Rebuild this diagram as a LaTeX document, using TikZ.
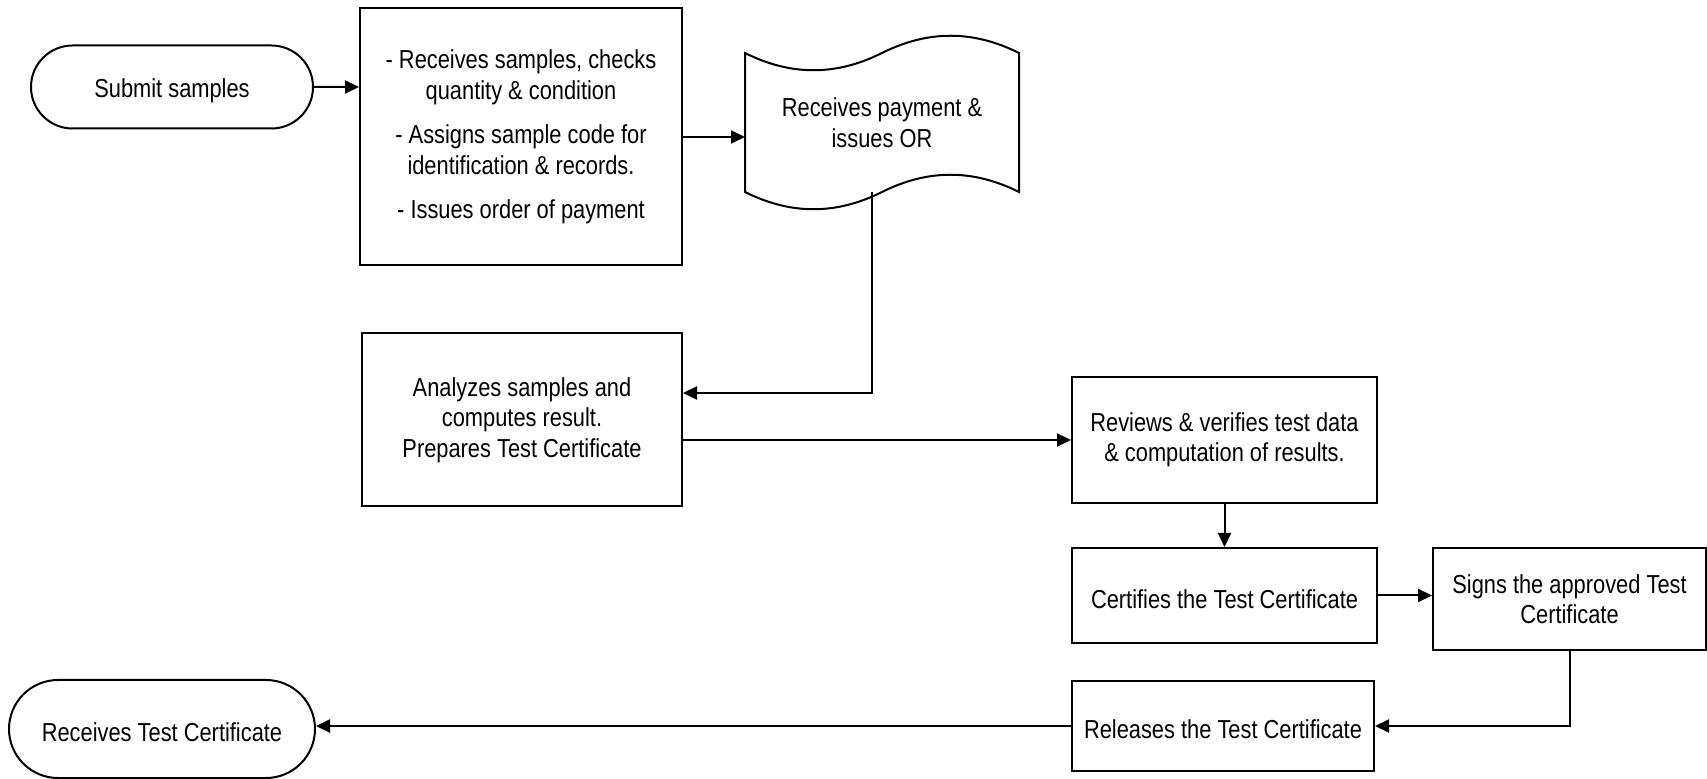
\documentclass[tikz,border=0pt]{standalone}
\usepackage{fontspec}
\setmainfont{Liberation Sans}[FakeStretch=0.84]
\usetikzlibrary{shapes.misc,arrows.meta}

\begin{document}
\begin{tikzpicture}[x=0.5pt,y=-0.5pt,
		font=\fontsize{13}{15.25}\selectfont,
		every node/.style={line width=1pt,align=center,inner sep=2pt,execute at begin node={\rule{0pt}{13pt}}},
		term/.style={draw,rounded rectangle},
		box/.style={draw,rectangle},
		flow/.style={-{Triangle[length=7pt,width=6.5pt]},line width=1pt}]
			\useasboundingbox (0,0) rectangle (1707,779);
			\node[term,minimum width=145pt,minimum height=41.5pt] (p1) at (172,87) {Submit samples};
			\node[box,minimum width=161pt,minimum height=128.5pt] (p2) at (521,137) {- Receives samples, checks\\ quantity \& condition\\[7pt] - Assigns sample code for\\ identification \& records.\\[7pt] - Issues order of payment};
			% payment tape, outline drawn round the node
			\node[outer sep=0pt,minimum width=137pt,minimum height=69.5pt] (p3) at (882,122.5) {Receives payment \&\\ issues OR};
			\draw[line width=1pt] (p3.north west) .. controls (791,76) and (836,76) .. (p3.north) .. controls (928,30) and (973,30) .. (p3.north east) -- (p3.south east) .. controls (973,169) and (928,169) .. (p3.south) .. controls (836,215) and (791,215) .. (p3.south west) -- cycle;
			\node[box,minimum width=160pt,minimum height=86.5pt] (p4) at (522,420) {Analyzes samples and\\ computes result.\\ Prepares Test Certificate};
			\node[box,minimum width=152.5pt,minimum height=63pt] (p5) at (1224.5,440) {Reviews \& verifies test data\\ \& computation of results.};
			\node[box,minimum width=152.5pt,minimum height=47.5pt] (p6) at (1224.5,595.5) {Certifies the Test Certificate};
			\node[box,minimum width=136.5pt,minimum height=51pt] (p7) at (1569.5,599) {Signs the approved Test\\ Certificate};
			\node[box,minimum width=151pt,minimum height=45pt] (p8) at (1223,726) {Releases the Test Certificate};
			\node[term,minimum width=157pt,minimum height=49pt] (p9) at (162,729) {Receives Test Certificate};
			\draw[flow] (p1) -- (p1 -| p2.west);
			\draw[flow] (p2.east) -- (p2.east -| p3.west);
			\draw[flow] ([xshift=-5pt]p3.south) |- ([yshift=13.5pt]p4.east);
			\draw[flow] (p4.east |- p5.west) -- (p5.west);
			\draw[flow] (p5) -- (p6);
			\draw[flow] (p6.east) -- (p6.east -| p7.west);
			\draw[flow] (p7) |- (p8);
			\draw[flow] (p8) -- (p8 -| p9.east);
		\end{tikzpicture}
\end{document}
